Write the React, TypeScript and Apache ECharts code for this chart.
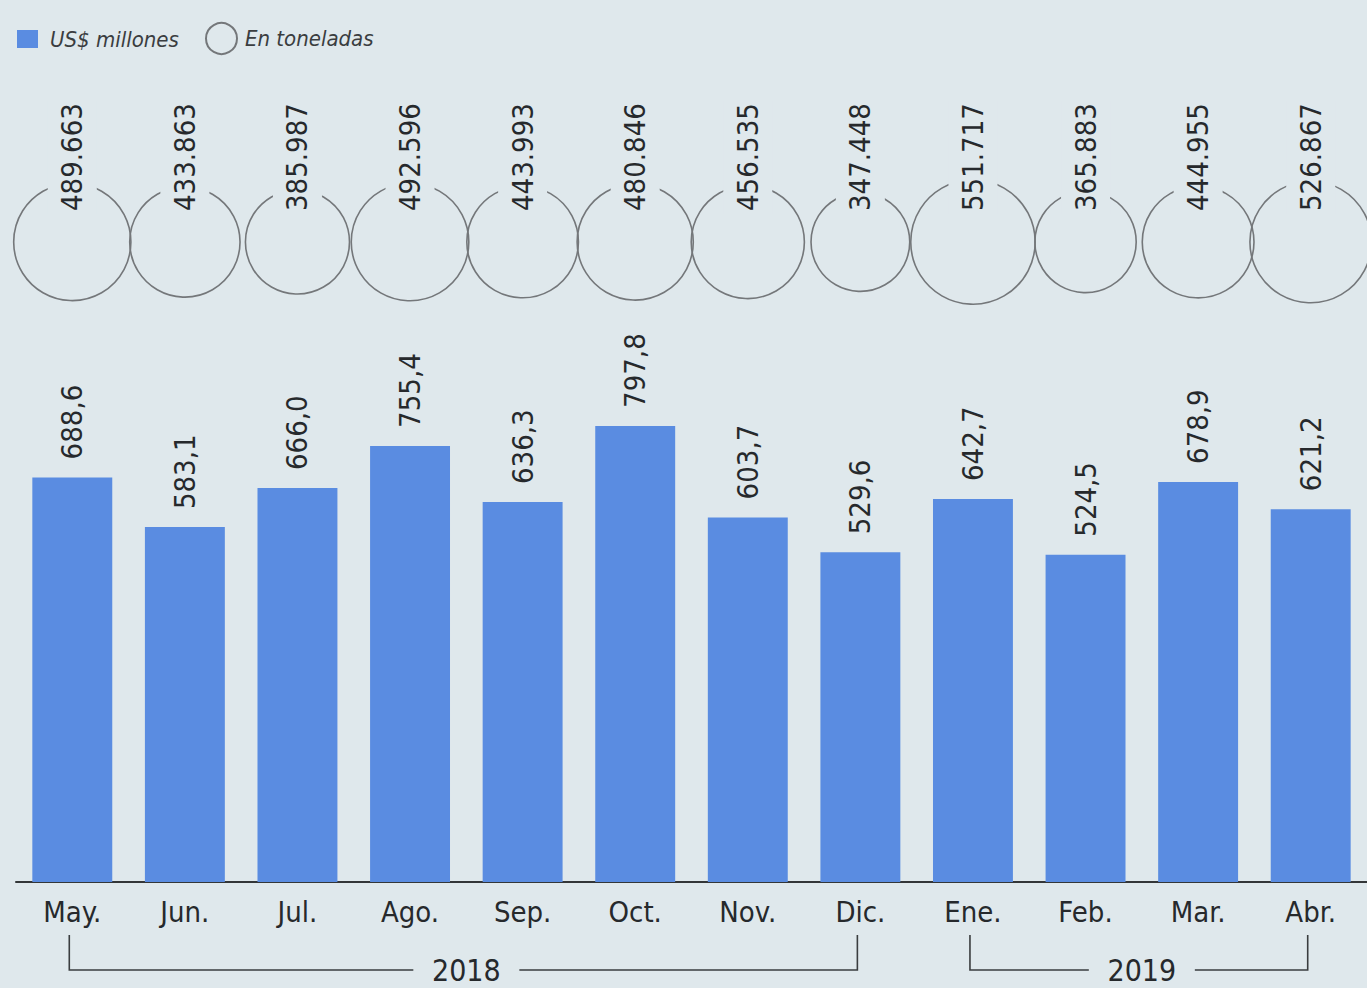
import React, { useEffect, useRef } from "react";
import * as echarts from "echarts";

const months = ["May.", "Jun.", "Jul.", "Ago.", "Sep.", "Oct.", "Nov.", "Dic.", "Ene.", "Feb.", "Mar.", "Abr."];
const usdMillions = [688.6, 583.1, 666.0, 755.4, 636.3, 797.8, 603.7, 529.6, 642.7, 524.5, 678.9, 621.2];
const tonnes = [489663, 433863, 385987, 492596, 443993, 480846, 456535, 347448, 551717, 365883, 444955, 526867];
const yearGroups = [
  { label: "2018", from: "May.", to: "Dic." },
  { label: "2019", from: "Ene.", to: "Abr." },
];
const seriesNames = ["US$ millones", "En toneladas"];

const BG = "#dfe8ec";
const BAR = "#5a8ce1";
const INK = "#26292c";
const CIRCLE = "#74777a";
const FONT = '"Liberation Sans Narrow", "Arial Narrow", "DejaVu Sans Condensed", Roboto, sans-serif';
const FS = 29;
const Y_MIN = -170;
const Y_MAX = 1500;

const fmtUsd = (v: number) => v.toFixed(1).replace(".", ",");
const fmtTon = (v: number) => `${Math.floor(v / 1000)}.${String(v % 1000).padStart(3, "0")}`;

export default function App() {
  const ref = useRef<HTMLDivElement>(null);
  useEffect(() => {
    if (!ref.current) return;
    const chart = echarts.init(ref.current, null, { renderer: "svg" });
    chart.setOption({
      animation: false,
      backgroundColor: BG,
      legend: [
        {
          data: [{ name: seriesNames[0], icon: "rect", itemStyle: { color: BAR } }],
          left: 12,
          top: 23,
          itemWidth: 21,
          itemHeight: 18,
          selectedMode: false,
          textStyle: { fontFamily: FONT, fontSize: 22, fontStyle: "italic", color: "#3a3d40", padding: [0, 0, 0, 7] },
        },
        {
          data: [{ name: seriesNames[1], icon: "circle", itemStyle: { color: "transparent", borderColor: CIRCLE, borderWidth: 2 } }],
          left: 200,
          top: 17,
          itemWidth: 31,
          itemHeight: 31,
          selectedMode: false,
          textStyle: { fontFamily: FONT, fontSize: 22, fontStyle: "italic", color: "#3a3d40", padding: [0, 0, 0, 3] },
        },
      ],
      grid: [
        { left: 16, right: -1, top: 95, bottom: 106 },
        { left: 16, right: -1, top: 182, height: 120 },
      ],
      xAxis: [
        {
          type: "category",
          data: months,
          gridIndex: 0,
          axisLine: { show: true, onZero: false, lineStyle: { color: "#333638", width: 2 } },
          axisTick: { show: false },
          axisLabel: { fontFamily: FONT, fontSize: FS, color: INK, margin: 15 },
        },
        { type: "category", data: months, gridIndex: 1, show: false },
      ],
      yAxis: [
        { type: "value", gridIndex: 0, min: Y_MIN, max: Y_MAX, show: false, splitLine: { show: false } },
        { type: "category", gridIndex: 1, data: ["t"], show: false },
      ],
      series: [
        {
          name: seriesNames[0],
          type: "custom",
          xAxisIndex: 0,
          yAxisIndex: 0,
          itemStyle: { color: BAR },
          data: usdMillions.map((v, i) => [i, v]),
          renderItem: (params: any, api: any) => {
            const idx = api.value(0);
            const v = api.value(1);
            const top = api.coord([idx, v]);
            const base = api.coord([idx, Y_MIN]);
            const w = api.size([1, 0])[0] * 0.71;
            return {
              type: "group",
              children: [
                {
                  type: "rect",
                  shape: { x: top[0] - w / 2, y: top[1], width: w, height: base[1] - top[1] },
                  style: { fill: BAR },
                },
                {
                  type: "text",
                  x: top[0],
                  y: top[1] - 18,
                  rotation: Math.PI / 2,
                  style: {
                    text: fmtUsd(v),
                    fontFamily: FONT,
                    fontSize: FS,
                    fill: INK,
                    align: "left",
                    verticalAlign: "middle",
                  },
                },
              ],
            };
          },
        },
        {
          name: seriesNames[1],
          type: "scatter",
          xAxisIndex: 1,
          yAxisIndex: 1,
          data: tonnes.map((v, i) => [months[i], "t", v]),
          symbol: "circle",
          symbolSize: (d: any) => Math.sqrt(d[2]) * 0.1675,
          itemStyle: { color: "transparent", borderColor: CIRCLE, borderWidth: 1.6, opacity: 1 },
          label: {
            show: true,
            position: "inside",
            rotate: 90,
            align: "left",
            verticalAlign: "middle",
            offset: [28, 0],
            formatter: (p: any) => fmtTon(p.value[2]),
            fontFamily: FONT,
            fontSize: FS,
            color: INK,
            backgroundColor: BG,
            padding: [10, 3],
          },
          emphasis: { disabled: true },
        },
      ],
    });

    const graphics: any[] = [];
    const yTop = 935;
    const yLine = 970;
    const halfGap = 53;
    yearGroups.forEach((g) => {
      const x1 = chart.convertToPixel({ xAxisIndex: 0 }, g.from) as number;
      const x2 = chart.convertToPixel({ xAxisIndex: 0 }, g.to) as number;
      const cx = (x1 + x2) / 2;
      const ls = { stroke: "#3a3d3f", lineWidth: 1.6, fill: null };
      graphics.push({ type: "polyline", shape: { points: [[x1 - 3, yTop], [x1 - 3, yLine], [cx - halfGap, yLine]] }, style: ls });
      graphics.push({ type: "polyline", shape: { points: [[cx + halfGap, yLine], [x2 - 3, yLine], [x2 - 3, yTop]] }, style: ls });
      graphics.push({
        type: "text",
        x: cx,
        y: yLine,
        style: { text: g.label, fontFamily: FONT, fontSize: FS + 1, fill: INK, align: "center", verticalAlign: "middle" },
      });
    });
    chart.setOption({ graphic: graphics });

    return () => chart.dispose();
  }, []);
  return <div ref={ref} style={{ position: "absolute", left: 0, top: 0, width: 1367, height: 988 }} />;
}
